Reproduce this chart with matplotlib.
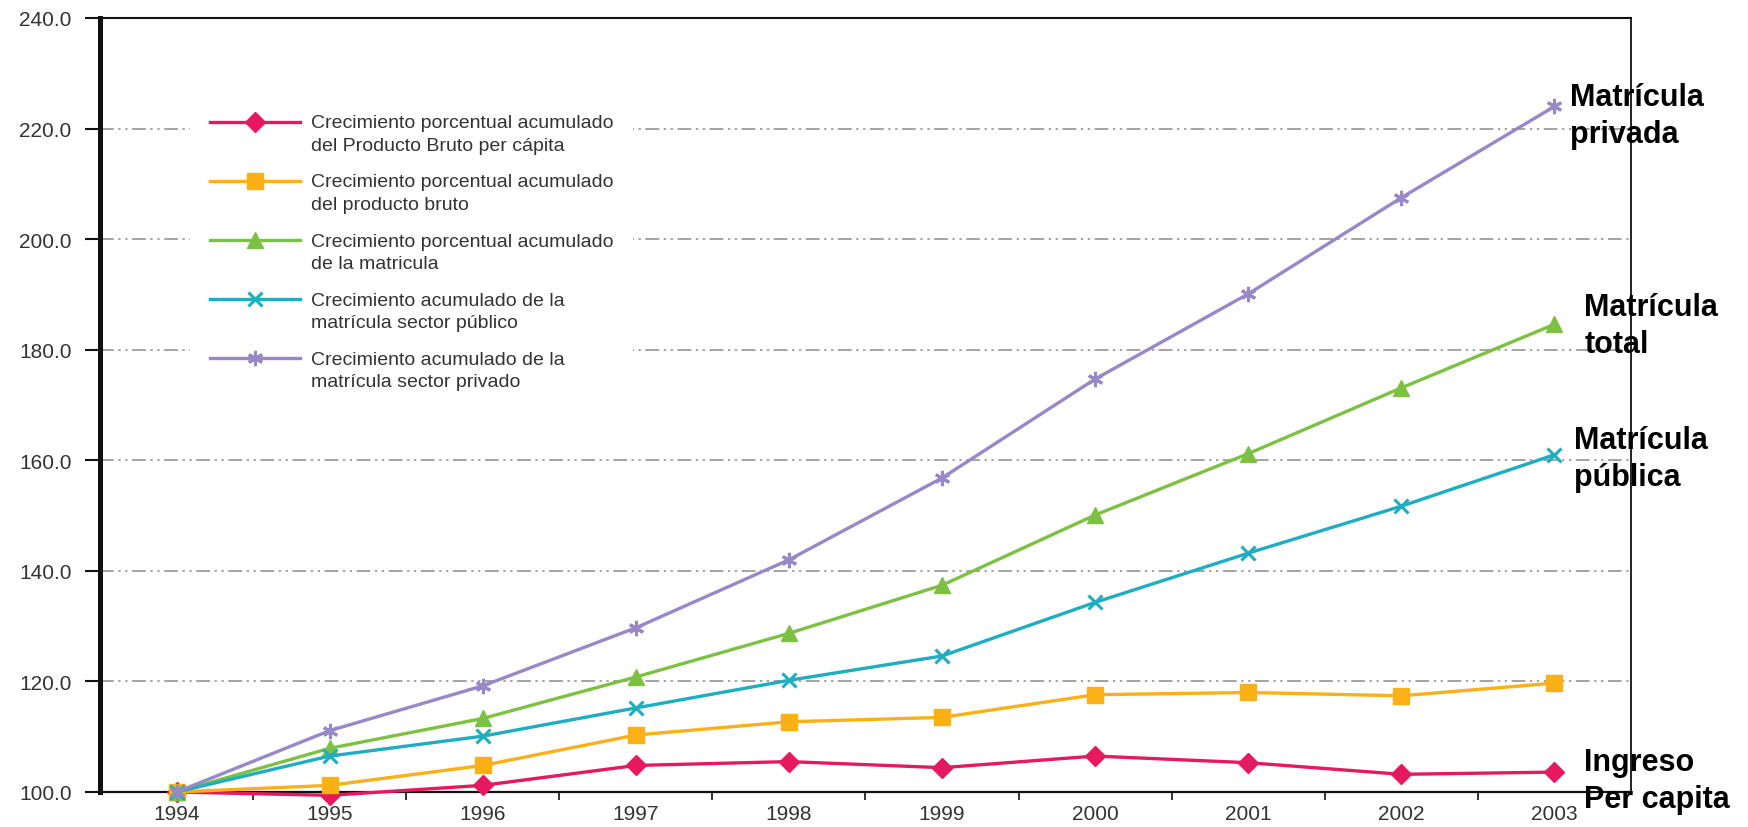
import matplotlib
matplotlib.use("Agg")
import matplotlib.pyplot as plt
from matplotlib.ticker import FixedLocator, FormatStrFormatter

plt.rcParams['font.family'] = ['Liberation Sans', 'DejaVu Sans']

# Years and cumulative growth indices (1994 = 100)
years = ['1994', '1995', '1996', '1997', '1998', '1999', '2000', '2001', '2002', '2003']
pb_per_capita = [100.0, 99.4, 101.2, 104.8, 105.5, 104.4, 106.5, 105.3, 103.2, 103.6]
pb_total = [100.0, 101.2, 104.8, 110.3, 112.7, 113.5, 117.6, 118.0, 117.4, 119.7]
matricula_total = [100.0, 107.9, 113.3, 120.8, 128.7, 137.4, 150.1, 161.2, 173.1, 184.6]
matricula_publica = [100.0, 106.5, 110.1, 115.2, 120.2, 124.6, 134.3, 143.2, 151.7, 161.0]
matricula_privada = [100.0, 111.1, 119.2, 129.7, 142.0, 156.8, 174.7, 190.1, 207.5, 224.0]

labels = [
    'Crecimiento porcentual acumulado\ndel Producto Bruto per cápita',
    'Crecimiento porcentual acumulado\ndel producto bruto',
    'Crecimiento porcentual acumulado\nde la matricula',
    'Crecimiento acumulado de la\nmatrícula sector público',
    'Crecimiento acumulado de la\nmatrícula sector privado',
]
series = [pb_per_capita, pb_total, matricula_total, matricula_publica, matricula_privada]
colors = ['#E6195F', '#FCB017', '#7DC142', '#1FADC1', '#9888C8']
markers = ['D', 's', '^', 'x', (6, 2, 0)]
msizes = [10, 11, 11, 10, 11]

# end-of-line labels: text, series, offset in points
end_labels = [
    ('Matrícula\nprivada', matricula_privada, (11, -6.5)),
    ('Matrícula\ntotal', matricula_total, (21.5, -1)),
    ('Matrícula\npública', matricula_publica, (14, -2.5)),
    ('Ingreso\nPer capita', pb_per_capita, (21.5, -6)),
]

fig = plt.figure(figsize=(17.49, 8.28), dpi=100)
ax = fig.add_axes([100 / 1749, 35 / 828, 1531 / 1749, 774 / 828])

x = list(range(len(years)))
for vals, lab, c, m, ms in zip(series, labels, colors, markers, msizes):
    ax.plot(x, vals, color=c, lw=2.4, marker=m, markersize=ms,
            markeredgewidth=2.2 if m in ('x', (6, 2, 0)) else 1,
            markeredgecolor=c, label=lab, clip_on=False, zorder=3)

ax.set_xlim(-0.5, len(years) - 0.5)
ax.set_ylim(100, 240)

# y axis
ax.set_yticks(range(100, 241, 20))
ax.yaxis.set_major_formatter(FormatStrFormatter('%.1f'))
ax.tick_params(axis='y', direction='out', length=10.5, width=1.5, pad=10,
               labelsize=15, labelcolor='#333333', color='#111111')

# x axis: labels under each year, tick marks between the years
ax.set_xticks(x)
ax.set_xticklabels(years)
ax.xaxis.set_minor_locator(FixedLocator([i + 0.5 for i in x[:-1]]))
ax.tick_params(axis='x', which='major', length=0, pad=9, labelsize=15,
               labelcolor='#333333')
ax.tick_params(axis='x', which='minor', direction='out', length=6, width=1.2,
               color='#111111')

for side, w in [('left', 3.6), ('bottom', 1.6), ('top', 1.5), ('right', 1.3)]:
    ax.spines[side].set_linewidth(w)
    ax.spines[side].set_color('#111111')

ax.yaxis.grid(True, color='#8a8a8a', lw=1.1, dashes=(9, 3, 1.5, 3, 1.5, 3))
ax.set_axisbelow(True)

# white legend box (no border) that hides the grid behind it
leg = ax.legend(loc='upper left', bbox_to_anchor=(0.0591, 0.916), frameon=True,
                fancybox=False, facecolor='white', edgecolor='none', framealpha=1,
                fontsize=14, handlelength=4.65, handletextpad=0.57,
                labelspacing=1.02, borderpad=1.0, borderaxespad=0)
for t in leg.get_texts():
    t.set_color('#333333')
    t.set_linespacing(1.4)
    t.set_y(-12)

for text, vals, off in end_labels:
    ax.annotate(text, xy=(x[-1], vals[-1]), xytext=off, textcoords='offset points',
                ha='left', va='center', fontsize=22, fontweight='bold',
                linespacing=1.3, annotation_clip=False)

fig.savefig('out.png', dpi=100)
